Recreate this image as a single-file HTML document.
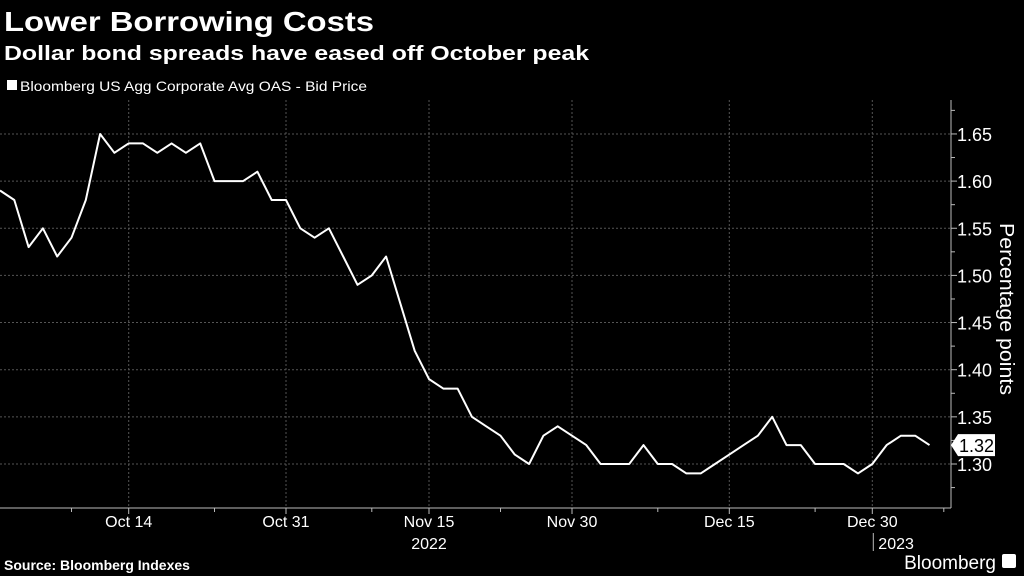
<!DOCTYPE html>
<html><head><meta charset="utf-8"><style>
body{margin:0;background:#000;width:1024px;height:576px;overflow:hidden;font-family:"Liberation Sans",sans-serif}
svg{display:block}
</style></head><body>
<svg id="c" width="1024" height="576" viewBox="0 0 1024 576">
<text x="4" y="31" fill="#fff" font-size="28" font-weight="bold" textLength="370" lengthAdjust="spacingAndGlyphs">Lower Borrowing Costs</text>
<text x="4" y="60" fill="#fff" font-size="20" font-weight="bold" textLength="585" lengthAdjust="spacingAndGlyphs">Dollar bond spreads have eased off October peak</text>
<g>
<rect x="7" y="80" width="10" height="10" fill="#fff"/>
<text x="20" y="91" fill="#fff" font-size="14" textLength="347" lengthAdjust="spacingAndGlyphs">Bloomberg US Agg Corporate Avg OAS - Bid Price</text>
</g>
<g id="grid"></g>
<g id="axes"></g>
<path id="line" fill="none" stroke="#fff" stroke-width="2" stroke-linejoin="round"/>
<g id="lastlab"></g>
<text transform="translate(1000,309) rotate(90)" fill="#fff" font-size="20" text-anchor="middle" textLength="172" lengthAdjust="spacingAndGlyphs">Percentage points</text>
<text x="4" y="570" fill="#fff" font-size="14" font-weight="bold">Source: Bloomberg Indexes</text>
<text x="996" y="569" fill="#fff" font-size="19" text-anchor="end">Bloomberg</text>
<rect x="1002" y="554" width="14" height="14" rx="2" fill="#fff"/>
</svg>
<script>
const values=[1.59,1.58,1.53,1.55,1.52,1.54,1.58,1.65,1.63,1.64,1.64,1.63,1.64,1.63,1.64,1.60,1.60,1.60,1.61,1.58,1.58,1.55,1.54,1.55,1.52,1.49,1.50,1.52,1.47,1.42,1.39,1.38,1.38,1.35,1.34,1.33,1.31,1.30,1.33,1.34,1.33,1.32,1.30,1.30,1.30,1.32,1.30,1.30,1.29,1.29,1.30,1.31,1.32,1.33,1.35,1.32,1.32,1.30,1.30,1.30,1.29,1.30,1.32,1.33,1.33,1.32];
const xLabels=["Oct 14","Oct 31","Nov 15","Nov 30","Dec 15","Dec 30"];
const xLabelIdx=[9,20,30,40,51,61];
const xMinorIdx=[5,15,26,35,46,57,66];
const yTicks=[1.30,1.35,1.40,1.45,1.50,1.55,1.60,1.65];
const yMinor=[1.275,1.325,1.375,1.425,1.475,1.525,1.575,1.625,1.675];
const lastLabel="1.32";
const NS="http://www.w3.org/2000/svg";
const X=i=>i*14.3, Y=v=>464-(v-1.30)*943;
const AX=951, TOP=100, BOT=508;
function mk(t,a,p){const e=document.createElementNS(NS,t);for(const k in a)e.setAttribute(k,a[k]);p.appendChild(e);return e;}
const g=document.getElementById('grid'),ax=document.getElementById('axes');
yTicks.forEach(v=>{const l=mk('line',{x1:0,x2:AX,y1:Y(v),y2:Y(v),stroke:'#555','stroke-dasharray':'2,2'},g);


const tk=mk('line',{x1:AX,x2:AX+6,y1:Y(v),y2:Y(v),stroke:'#bbb'},ax);


const t=mk('text',{x:AX+6,y:Y(v)+7,fill:'#fff','font-size':'18'},ax);t.textContent=v.toFixed(2);

});
yMinor.forEach(v=>{const tk=mk('line',{x1:AX,x2:AX+4,y1:Y(v),y2:Y(v),stroke:'#bbb'},ax);

});
xLabelIdx.forEach((i,k)=>{const l=mk('line',{x1:X(i),x2:X(i),y1:TOP,y2:BOT,stroke:'#555','stroke-dasharray':'2,2'},g);


const tk=mk('line',{x1:X(i),x2:X(i),y1:BOT,y2:BOT+6,stroke:'#bbb'},ax);


const t=mk('text',{x:X(i),y:527,fill:'#fff','font-size':'16','text-anchor':'middle'},ax);t.textContent=xLabels[k];

});
xMinorIdx.forEach(i=>{const tk=mk('line',{x1:X(i),x2:X(i),y1:BOT,y2:BOT+4,stroke:'#bbb'},ax);

});
let e=mk('line',{x1:0,x2:AX,y1:BOT,y2:BOT,stroke:'#bbb'},ax);


e=mk('line',{x1:AX,x2:AX,y1:TOP,y2:BOT,stroke:'#bbb'},ax);


e=mk('text',{x:X(30),y:549,fill:'#fff','font-size':'16','text-anchor':'middle'},ax);e.textContent='2022';


e=mk('line',{x1:X(61)+1,x2:X(61)+1,y1:533,y2:551,stroke:'#bbb'},ax);


e=mk('text',{x:X(61)+6,y:549,fill:'#fff','font-size':'16'},ax);e.textContent='2023';


document.getElementById('line').setAttribute('d',values.map((v,i)=>(i?'L':'M')+X(i).toFixed(1)+','+Y(v).toFixed(1)).join(''));
const lv=values[values.length-1],ly=Y(lv),lg=document.getElementById('lastlab');
e=mk('path',{d:`M${AX},${ly} L${AX+7},${ly-11} H${AX+44} V${ly+11} H${AX+7} Z`,fill:'#fff'},lg);


e=mk('text',{x:AX+8,y:ly+7,fill:'#000','font-size':'18'},lg);e.textContent=lastLabel;


</script>
</body></html>
